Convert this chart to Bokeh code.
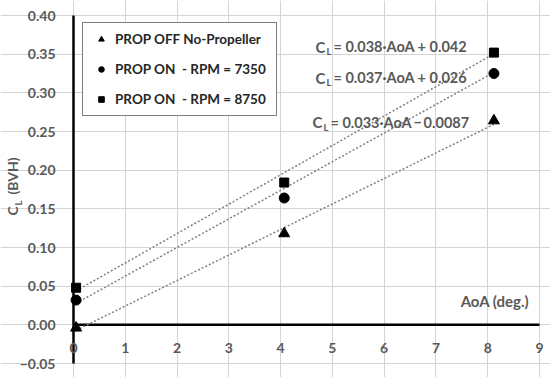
from bokeh.plotting import figure
from bokeh.models import Label, LabelSet, ColumnDataSource, FixedTicker, Legend, LegendItem, Range1d
from bokeh.core.properties import value
from bokeh.embed import file_html
from bokeh.resources import INLINE
import numpy as np

# ---- data ----
aoa = [0.05, 4.07, 8.12]
cl_off = [-0.004, 0.118, 0.264]
cl_7350 = [0.032, 0.164, 0.325]
cl_8750 = [0.048, 0.184, 0.352]
series_names = ["PROP OFF No-Propeller", "PROP ON  - RPM = 7350", "PROP ON  - RPM = 8750"]
fit_slope = [0.033, 0.037, 0.038]
fit_intercept = [-0.0087, 0.026, 0.042]
eq_texts = ["= 0.033·AoA\u2009\u2212\u20090.0087", "= 0.037·AoA + 0.026", "= 0.038·AoA + 0.042"]
x_ticks = [0, 1, 2, 3, 4, 5, 6, 7, 8, 9]
x_tick_labels = ["0", "1", "2", "3", "4", "5", "6", "7", "8", "9"]
y_ticks = [-0.05, 0.0, 0.05, 0.1, 0.15, 0.2, 0.25, 0.3, 0.35, 0.4]
y_tick_labels = ["\u22120.05", "0.00", "0.05", "0.10", "0.15", "0.20", "0.25", "0.30", "0.35", "0.40"]

FONT = "Lato"
GRAY = "#595959"

W, H = 550, 377
# plot-area placement inside the canvas (pixels)
L_PX, R_PX, T_PX, B_PX = 73, 539, 15, 363
x0, x1 = min(x_ticks), max(x_ticks)
y0, y1 = min(y_ticks), max(y_ticks)
xs = (x1 - x0) / (R_PX - L_PX)
ys = (y1 - y0) / (B_PX - T_PX)
x_range = Range1d(x0 - L_PX * xs, x1 + (W - R_PX) * xs)
y_range = Range1d(y0 - (H - B_PX) * ys, y1 + T_PX * ys)

p = figure(width=W, height=H, x_range=x_range, y_range=y_range,
           output_backend="svg", toolbar_location=None,
           min_border_left=0, min_border_right=0, min_border_top=0, min_border_bottom=0)
p.background_fill_color = "white"
p.border_fill_color = "white"
p.outline_line_color = None
p.xaxis.visible = False
p.yaxis.visible = False

p.xgrid.ticker = FixedTicker(ticks=x_ticks)
p.ygrid.ticker = FixedTicker(ticks=y_ticks)
p.xgrid.bounds = (y0, y1)
p.ygrid.bounds = (x0, x1)
p.xgrid.grid_line_color = "#d4d4d4"
p.ygrid.grid_line_color = "#d4d4d4"

# axis lines (x = 0 and y = 0)
p.segment(x0=[0], y0=[y0], x1=[0], y1=[y1], line_color="black", line_width=2.5)
p.segment(x0=[x0], y0=[0], x1=[x1], y1=[0], line_color="black", line_width=2.5)

tick_style = dict(text_font=value(FONT), text_font_style="bold", text_font_size="14px",
                  text_color=GRAY, text_baseline="middle")
# y tick labels
src_y = ColumnDataSource(dict(x=[0] * len(y_ticks), y=y_ticks, t=y_tick_labels))
p.add_layout(LabelSet(x="x", y="y", text="t", source=src_y, x_offset=-18,
                      text_align="right", **tick_style))
# x tick labels along y = 0
src_x = ColumnDataSource(dict(x=x_ticks, y=[0] * len(x_ticks), t=x_tick_labels))
p.add_layout(LabelSet(x="x", y="y", text="t", source=src_x, y_offset=-23,
                      text_align="center", **tick_style))

# trend lines
series = [cl_off, cl_7350, cl_8750]
xa = np.array([min(aoa), max(aoa)])
for s, b in zip(fit_slope, fit_intercept):
    p.line(xa, s * xa + b, line_color="#808080", line_width=1.5, line_dash="2 2")

markers = ["triangle", "circle", "square"]
sizes = [11, 10, 9]
items = []
for name, vals, m, sz in zip(series_names, series, markers, sizes):
    r = p.scatter(aoa, vals, marker=m, size=sz, fill_color="black", line_color="black")
    items.append(LegendItem(label=name, renderers=[r]))

legend = Legend(items=items, location=(82, H - 24 - 92), padding=6, spacing=10, label_height=20,
                glyph_width=24, glyph_height=14, label_standoff=2, label_width=155,
                label_text_font=FONT, label_text_font_style="bold", label_text_font_size="13.5px",
                label_text_color="#262626", border_line_color="black", border_line_width=1,
                background_fill_color="white", background_fill_alpha=1.0)
p.add_layout(legend)

# equations
eq_pos = [(4.616, 0.262), (4.674, 0.3195), (4.674, 0.3597)]
for (ex, ey), txt in zip(eq_pos, eq_texts):
    common = dict(text_font=FONT, text_font_style="bold", text_color=GRAY, text_baseline="middle")
    p.add_layout(Label(x=ex, y=ey, text="C", text_font_size="15px", **common))
    p.add_layout(Label(x=ex, y=ey, x_offset=11, y_offset=-5, text="L", text_font_size="9.5px", **common))
    p.add_layout(Label(x=ex, y=ey, x_offset=18, text=txt, text_font_size="14.5px", **common))

# x axis title
p.add_layout(Label(x=8.8, y=0.031, text="AoA (deg.)", text_align="right", text_baseline="middle",
                   text_font=FONT, text_font_style="bold", text_font_size="15px", text_color=GRAY))

# y axis title: C_L (BVH)
yl = dict(x_units="screen", y_units="screen", angle=np.pi / 2, text_font=FONT,
          text_font_style="bold", text_color=GRAY, text_baseline="middle", text_align="left")
p.add_layout(Label(x=12, y=H - 215, text="C", text_font_size="14px", **yl))
p.add_layout(Label(x=18, y=H - 205, text="L", text_font_size="9.5px", **yl))
p.add_layout(Label(x=12, y=H - 194, text="(BVH)", text_font_size="14px", **yl))

open("out.html", "w").write(file_html(p, INLINE))
